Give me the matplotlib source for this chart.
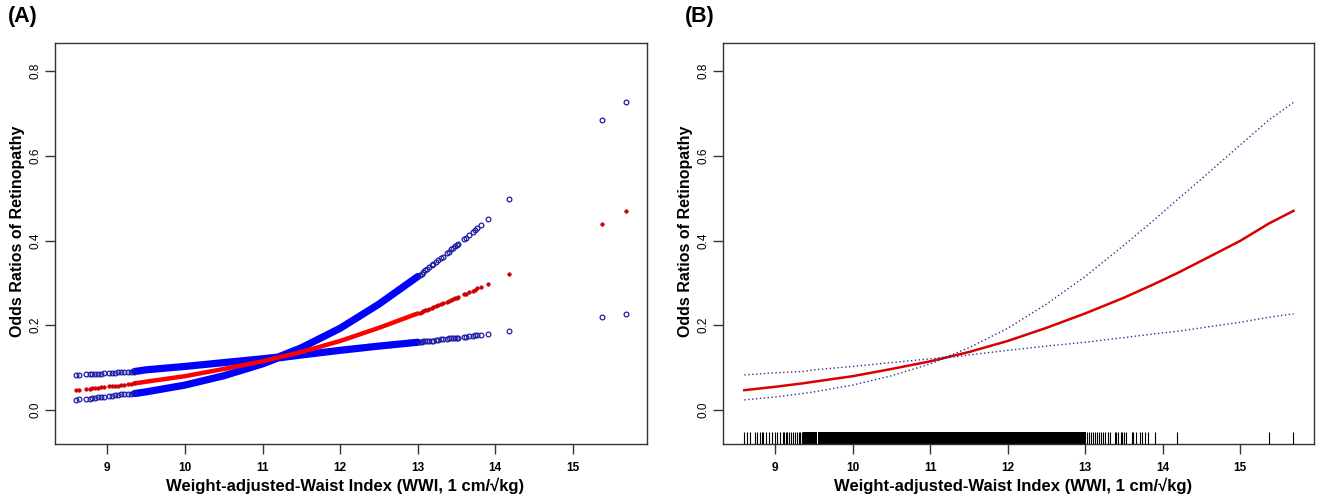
import numpy as np
import matplotlib
matplotlib.use('Agg')
import matplotlib.pyplot as plt

plt.rcParams['font.family'] = ['Liberation Sans', 'DejaVu Sans']

# smooth curve
grid_x = [8.6, 9.0, 9.35, 9.5, 10.0, 10.5, 11.0, 11.2, 11.5, 12.0, 12.5,
          13.0, 13.5, 13.9, 14.2, 14.5, 15.0, 15.37, 15.69]
grid_est = [0.047, 0.055, 0.063, 0.067, 0.080, 0.097, 0.115, 0.124, 0.137,
            0.163, 0.194, 0.228, 0.265, 0.298, 0.324, 0.352, 0.399, 0.440,
            0.470]
grid_hi = [0.083, 0.088, 0.091, 0.095, 0.103, 0.112, 0.121, 0.125, 0.147,
           0.193, 0.250, 0.315, 0.389, 0.450, 0.498, 0.545, 0.625, 0.684,
           0.726]
grid_lo = [0.024, 0.031, 0.039, 0.043, 0.059, 0.081, 0.109, 0.123, 0.130,
           0.141, 0.151, 0.160, 0.171, 0.180, 0.186, 0.194, 0.207, 0.219,
           0.227]

# sparse observations in panel (A), left tail
left_x = [8.60, 8.64, 8.73, 8.77, 8.80, 8.84, 8.88, 8.92, 8.96, 9.02, 9.06,
          9.10, 9.14, 9.18, 9.22, 9.26, 9.30, 9.34]
left_hi = [0.083, 0.083, 0.084, 0.085, 0.085, 0.086, 0.086, 0.086, 0.087,
           0.088, 0.088, 0.088, 0.089, 0.089, 0.090, 0.090, 0.091, 0.091]
left_est = [0.047, 0.048, 0.050, 0.050, 0.051, 0.052, 0.053, 0.054, 0.055,
            0.056, 0.057, 0.058, 0.058, 0.059, 0.060, 0.061, 0.062, 0.063]
left_lo = [0.024, 0.025, 0.027, 0.027, 0.028, 0.029, 0.030, 0.031, 0.032,
           0.033, 0.034, 0.035, 0.036, 0.037, 0.038, 0.038, 0.039, 0.040]

# right tail
right_x = [13.03, 13.05, 13.07, 13.10, 13.12, 13.15, 13.18, 13.20, 13.23,
           13.26, 13.30, 13.32, 13.38, 13.40, 13.43, 13.46, 13.48, 13.50,
           13.52, 13.60, 13.62, 13.66, 13.71, 13.74, 13.77, 13.81, 13.90,
           14.18, 15.37, 15.69]
right_hi = [0.319, 0.322, 0.325, 0.330, 0.333, 0.337, 0.342, 0.345, 0.349,
            0.353, 0.359, 0.362, 0.371, 0.374, 0.379, 0.383, 0.386, 0.389,
            0.392, 0.404, 0.407, 0.413, 0.421, 0.426, 0.430, 0.437, 0.450,
            0.497, 0.684, 0.726]
right_est = [0.230, 0.232, 0.233, 0.235, 0.237, 0.239, 0.241, 0.243, 0.245,
             0.247, 0.250, 0.252, 0.256, 0.258, 0.260, 0.262, 0.264, 0.265,
             0.267, 0.273, 0.275, 0.278, 0.282, 0.284, 0.287, 0.290, 0.298,
             0.322, 0.440, 0.470]
right_lo = [0.161, 0.161, 0.162, 0.162, 0.163, 0.163, 0.164, 0.164, 0.165,
            0.166, 0.167, 0.167, 0.168, 0.169, 0.169, 0.170, 0.170, 0.171,
            0.171, 0.173, 0.173, 0.174, 0.175, 0.176, 0.177, 0.178, 0.180,
            0.186, 0.219, 0.227]

# rug in panel (B)
rug_left = [8.595, 8.638, 8.673, 8.733, 8.767, 8.802, 8.824, 8.845, 8.88,
            8.922, 8.957, 8.99, 9.02, 9.06, 9.095, 9.117, 9.14, 9.157, 9.18,
            9.2, 9.225, 9.255, 9.277, 9.3, 9.323, 9.345]
rug_right = [13.028, 13.05, 13.071, 13.097, 13.123, 13.149, 13.175, 13.2,
             13.226, 13.256, 13.295, 13.321, 13.382, 13.404, 13.43, 13.46,
             13.481, 13.503, 13.524, 13.602, 13.619, 13.658, 13.71, 13.74,
             13.77, 13.813, 13.9, 14.18, 15.37, 15.69]
rug_dense = [(9.355, 9.538), (9.548, 13.007)]

xticks = [9, 10, 11, 12, 13, 14, 15]
yticks = [0.0, 0.2, 0.4, 0.6, 0.8]
xlab = 'Weight-adjusted-Waist Index (WWI, 1 cm/\u221akg)'
ylab = 'Odds Ratios of Retinopathy'

fig = plt.figure(figsize=(13.25, 5.03), dpi=100)
axA = fig.add_axes([0.0415, 0.1173, 0.4468, 0.7972])
axB = fig.add_axes([0.5457, 0.1173, 0.4460, 0.7972])

gx = np.array(grid_x)
dense = (gx >= 9.34) & (gx <= 13.03)

# panel A: points, the dense middle merges into a solid band
axA.plot(gx[dense], np.array(grid_hi)[dense], color='blue', lw=5.2,
         solid_capstyle='round')
axA.plot(gx[dense], np.array(grid_lo)[dense], color='blue', lw=5.2,
         solid_capstyle='round')
axA.plot(gx[dense], np.array(grid_est)[dense], color='red', lw=3.2,
         solid_capstyle='round')
for xs, ys in [(left_x, left_hi), (left_x, left_lo),
               (right_x, right_hi), (right_x, right_lo)]:
    axA.plot(xs, ys, 'o', ms=3.4, mfc='none', mec='#1c1ca8', mew=0.9)
for xs, ys in [(left_x, left_est), (right_x, right_est)]:
    axA.plot(xs, ys, 'o', ms=2.6, mfc='#d00000', mec='#d00000', mew=0.4)

# panel B: smooth lines + rug
axB.plot(grid_x, grid_est, color='#d80000', lw=1.8)
axB.plot(grid_x, grid_hi, color='#30308f', lw=1.0, ls=(0, (1, 1.8)))
axB.plot(grid_x, grid_lo, color='#30308f', lw=1.0, ls=(0, (1, 1.8)))
axB.vlines(rug_left + rug_right, 0, 0.03, color='black', lw=0.8,
           transform=axB.get_xaxis_transform())
for a, b in rug_dense:
    axB.axvspan(a, b, ymin=0, ymax=0.03, color='black', lw=0)

for ax in (axA, axB):
    ax.set_xlim(8.325, 15.955)
    ax.set_ylim(-0.080, 0.866)
    ax.set_xticks(xticks)
    ax.set_xticklabels([str(t) for t in xticks], fontweight='bold')
    ax.set_yticks(yticks)
    ax.set_yticklabels(['%.1f' % t for t in yticks], rotation=90,
                       va='center')
    ax.tick_params(axis='both', length=7, width=1.0, color='#333333',
                   labelsize=8.5)
    ax.tick_params(axis='x', pad=6)
    ax.tick_params(axis='y', pad=2.5)
    for s in ax.spines.values():
        s.set_color('#333333')
        s.set_linewidth(1.0)
    ax.set_xlabel(xlab, fontsize=12, fontweight='bold', va='center')
    ax.set_ylabel(ylab, fontsize=11.5, fontweight='bold')
    ax.xaxis.set_label_coords(0.49, -0.105)
    ax.yaxis.set_label_coords(-0.0507, 0.53)

fig.text(0.006, 0.968, '(A)', fontsize=15.5, fontweight='bold', va='center')
fig.text(0.517, 0.968, '(B)', fontsize=15.5, fontweight='bold', va='center')

fig.savefig('out.png', dpi=100)
